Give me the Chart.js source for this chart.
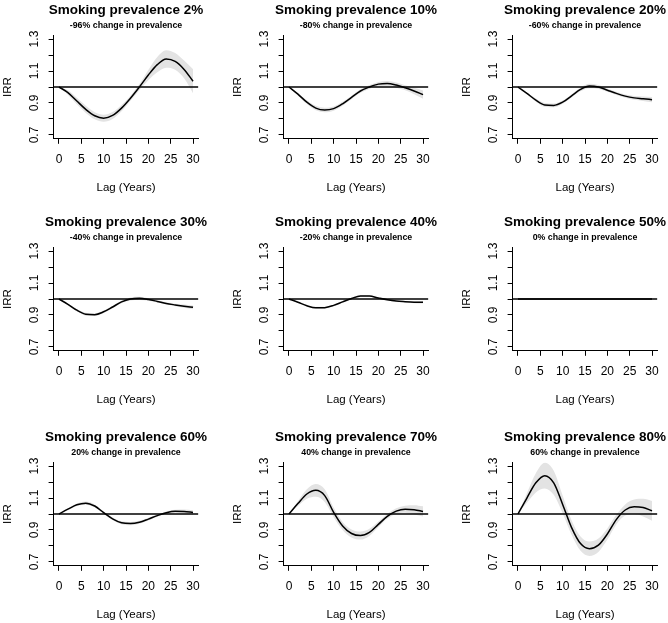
<!DOCTYPE html>
<html>
<head>
<meta charset="utf-8">
<script src="https://cdn.jsdelivr.net/npm/chart.js@4.4.1/dist/chart.umd.min.js"></script>
<style>
    html, body { margin: 0; padding: 0; background: #fff; overflow: hidden; }
    #wrap { position: relative; width: 668px; height: 623px; overflow: hidden; }
    #wrap canvas { position: absolute; }
</style>
</head>
<body>
<div id="wrap"></div>
<script>
// values, lag step 2 years
const lags = [0, 2, 4, 6, 8, 10, 12, 14, 16, 18, 20, 22, 24, 26, 28, 30];
const xTicks = [0, 5, 10, 15, 20, 25, 30];
const yTicks = [0.7, 0.8, 0.9, 1.0, 1.1, 1.2, 1.3];
const yTickLabels = ['0.7', '', '0.9', '', '1.1', '', '1.3'];

const titles = ['Smoking prevalence 2%', 'Smoking prevalence 10%', 'Smoking prevalence 20%',
    'Smoking prevalence 30%', 'Smoking prevalence 40%', 'Smoking prevalence 50%',
    'Smoking prevalence 60%', 'Smoking prevalence 70%', 'Smoking prevalence 80%'];
const subtitles = ['-96% change in prevalence', '-80% change in prevalence', '-60% change in prevalence',
    '-40% change in prevalence', '-20% change in prevalence', '0% change in prevalence',
    '20% change in prevalence', '40% change in prevalence', '60% change in prevalence'];

const est2 = [1.000, 0.965, 0.912, 0.860, 0.820, 0.805, 0.822, 0.868, 0.930, 1.000, 1.075, 1.140, 1.175, 1.160, 1.110, 1.036];
const lo2  = [1.000, 0.951, 0.892, 0.838, 0.798, 0.783, 0.800, 0.848, 0.914, 0.982, 1.043, 1.092, 1.120, 1.108, 1.055, 0.961];
const hi2  = [1.000, 0.979, 0.932, 0.882, 0.842, 0.827, 0.844, 0.888, 0.946, 1.018, 1.107, 1.188, 1.230, 1.212, 1.165, 1.111];

const est10 = [1.000, 0.955, 0.905, 0.868, 0.856, 0.865, 0.895, 0.935, 0.975, 1.000, 1.018, 1.022, 1.012, 0.995, 0.975, 0.952];
const lo10  = [1.000, 0.947, 0.893, 0.854, 0.842, 0.852, 0.883, 0.924, 0.964, 0.988, 1.004, 1.006, 0.996, 0.979, 0.955, 0.926];
const hi10  = [1.000, 0.963, 0.917, 0.882, 0.870, 0.878, 0.907, 0.946, 0.986, 1.012, 1.032, 1.038, 1.028, 1.011, 0.995, 0.978];

const est20 = [1.000, 0.960, 0.918, 0.888, 0.885, 0.905, 0.945, 0.985, 1.006, 1.000, 0.980, 0.960, 0.943, 0.932, 0.927, 0.921];
const lo20  = [1.000, 0.954, 0.908, 0.876, 0.873, 0.895, 0.935, 0.973, 0.992, 0.988, 0.970, 0.950, 0.933, 0.920, 0.913, 0.905];
const hi20  = [1.000, 0.966, 0.928, 0.900, 0.897, 0.915, 0.955, 0.997, 1.020, 1.012, 0.990, 0.970, 0.953, 0.944, 0.941, 0.937];

const est30 = [1.000, 0.967, 0.930, 0.905, 0.902, 0.920, 0.950, 0.982, 1.000, 1.004, 0.997, 0.985, 0.972, 0.963, 0.955, 0.948];
const lo30  = [1.000, 0.962, 0.922, 0.896, 0.893, 0.912, 0.942, 0.973, 0.990, 0.994, 0.989, 0.978, 0.965, 0.955, 0.945, 0.936];
const hi30  = [1.000, 0.972, 0.938, 0.914, 0.911, 0.928, 0.958, 0.991, 1.010, 1.014, 1.005, 0.992, 0.979, 0.971, 0.965, 0.960];

const est40 = [1.000, 0.980, 0.958, 0.945, 0.946, 0.960, 0.982, 1.003, 1.019, 1.018, 1.006, 0.995, 0.987, 0.983, 0.980, 0.979];
const lo40  = [1.000, 0.976, 0.953, 0.939, 0.940, 0.955, 0.977, 0.998, 1.013, 1.012, 1.001, 0.990, 0.982, 0.978, 0.974, 0.972];
const hi40  = [1.000, 0.984, 0.963, 0.951, 0.952, 0.965, 0.987, 1.008, 1.025, 1.024, 1.011, 1.000, 0.992, 0.988, 0.986, 0.986];

const est50 = [1, 1, 1, 1, 1, 1, 1, 1, 1, 1, 1, 1, 1, 1, 1, 1];
const lo50  = [1, 1, 1, 1, 1, 1, 1, 1, 1, 1, 1, 1, 1, 1, 1, 1];
const hi50  = [1, 1, 1, 1, 1, 1, 1, 1, 1, 1, 1, 1, 1, 1, 1, 1];

const est60 = [1.000, 1.030, 1.058, 1.068, 1.050, 1.008, 0.970, 0.945, 0.940, 0.948, 0.968, 0.990, 1.008, 1.017, 1.016, 1.010];
const lo60  = [1.000, 1.025, 1.050, 1.058, 1.040, 1.000, 0.962, 0.936, 0.930, 0.939, 0.960, 0.983, 1.000, 1.007, 1.004, 0.996];
const hi60  = [1.000, 1.035, 1.066, 1.078, 1.060, 1.016, 0.978, 0.954, 0.950, 0.957, 0.976, 0.997, 1.016, 1.027, 1.028, 1.024];

const est70 = [1.000, 1.065, 1.125, 1.148, 1.115, 1.010, 0.925, 0.878, 0.865, 0.885, 0.935, 0.985, 1.018, 1.030, 1.027, 1.016];
const lo70  = [1.000, 1.050, 1.095, 1.108, 1.075, 0.980, 0.900, 0.853, 0.840, 0.863, 0.917, 0.970, 1.000, 1.008, 0.999, 0.984];
const hi70  = [1.000, 1.080, 1.155, 1.188, 1.155, 1.040, 0.950, 0.903, 0.890, 0.907, 0.953, 1.000, 1.036, 1.052, 1.055, 1.048];

const est80 = [1.000, 1.100, 1.195, 1.240, 1.195, 1.060, 0.915, 0.815, 0.783, 0.805, 0.875, 0.965, 1.025, 1.045, 1.040, 1.020];
const lo80  = [1.000, 1.070, 1.135, 1.160, 1.120, 1.005, 0.870, 0.770, 0.738, 0.763, 0.840, 0.935, 0.990, 1.000, 0.985, 0.958];
const hi80  = [1.000, 1.130, 1.255, 1.320, 1.270, 1.115, 0.960, 0.860, 0.828, 0.847, 0.910, 0.995, 1.060, 1.090, 1.095, 1.082];

const panelEst = [est2, est10, est20, est30, est40, est50, est60, est70, est80];
const panelLo = [lo2, lo10, lo20, lo30, lo40, lo50, lo60, lo70, lo80];
const panelHi = [hi2, hi10, hi20, hi30, hi40, hi50, hi60, hi70, hi80];

// layout
const FONT = '"Liberation Sans", Arial, Helvetica, sans-serif';
const colX = [0, 230, 459];
const rowY = [0, 212, 427];
const xMin = -1.2, xMax = 31.2;
const yMin = 0.676, yMax = 1.324;

// R style main title + sub title, centred over the plot region
var panelTitles = {
    id: 'panelTitles',
    afterDraw: function (chart, args, opts) {
        var ctx = chart.ctx;
        var area = chart.chartArea;
        var cx = (area.left + area.right) / 2;
        ctx.save();
        ctx.fillStyle = '#000';
        ctx.textAlign = 'center';
        ctx.textBaseline = 'alphabetic';
        ctx.font = 'bold 13.5px ' + FONT;
        ctx.fillText(opts.title, cx, area.top - 21.2);
        ctx.font = 'bold 8.8px ' + FONT;
        ctx.fillText(opts.sub, cx, area.top - 7.2);
        ctx.restore();
    }
};

function toPoints(values) {
    return lags.map(function (x, i) { return { x: x, y: values[i] }; });
}

function renderPanel(idx) {
    var wrap = document.getElementById('wrap');
    var canvas = document.createElement('canvas');
    canvas.width = 230;
    canvas.height = 205;
    canvas.style.left = colX[idx % 3] + 'px';
    canvas.style.top = rowY[Math.floor(idx / 3)] + 'px';
    wrap.appendChild(canvas);

    new Chart(canvas, {
        type: 'line',
        data: {
            datasets: [{
                data: toPoints(panelLo[idx]),
                borderColor: 'rgba(0,0,0,0)',
                borderWidth: 0,
                pointRadius: 0,
                fill: false,
                cubicInterpolationMode: 'monotone',
                order: 3,
            }, {
                data: toPoints(panelHi[idx]),
                borderColor: 'rgba(0,0,0,0)',
                borderWidth: 0,
                pointRadius: 0,
                fill: '-1',
                backgroundColor: '#e3e3e3',
                cubicInterpolationMode: 'monotone',
                order: 3,
            }, {
                data: toPoints(panelEst[idx]),
                borderColor: '#000',
                borderWidth: 1.5,
                pointRadius: 0,
                fill: false,
                cubicInterpolationMode: 'monotone',
                order: 2,
            }, {
                // abline(h = 1)
                data: [{ x: xMin, y: 1 }, { x: xMax, y: 1 }],
                borderColor: '#000',
                borderWidth: 1.6,
                pointRadius: 0,
                fill: false,
                order: 1,
            }]
        },
        options: {
            responsive: false,
            animation: false,
            layout: { padding: { left: 0, top: 35.2, right: 31.6, bottom: 0 } },
            plugins: {
                legend: { display: false },
                tooltip: { enabled: false },
                panelTitles: { title: titles[idx], sub: subtitles[idx] }
            },
            scales: {
                x: {
                    type: 'linear',
                    min: xMin,
                    max: xMax,
                    afterBuildTicks: function (s) { s.ticks = xTicks.map(function (v) { return { value: v }; }); },
                    afterFit: function (s) { s.height = 66.2; },
                    border: { color: '#000', width: 1 },
                    grid: { drawOnChartArea: false, color: '#000', tickLength: 5 },
                    ticks: { autoSkip: false, maxRotation: 0, padding: 9, color: '#000', font: { family: FONT, size: 12 } },
                    title: {
                        display: true, text: 'Lag (Years)', color: '#000',
                        font: { family: FONT, size: 11.5 }, padding: { top: 0, bottom: 10 }
                    }
                },
                y: {
                    type: 'linear',
                    min: yMin,
                    max: yMax,
                    afterBuildTicks: function (s) { s.ticks = yTicks.map(function (v) { return { value: v }; }); },
                    afterFit: function (s) { s.width = 53.6; },
                    border: { color: '#000', width: 1 },
                    grid: { drawOnChartArea: false, color: '#000', tickLength: 5 },
                    ticks: {
                        autoSkip: false, minRotation: 90, maxRotation: 90, crossAlign: 'center', padding: 5.3,
                        color: '#000', font: { family: FONT, size: 12 },
                        callback: function (v, i) { return yTickLabels[i]; }
                    },
                    title: {
                        display: true, text: 'IRR', color: '#000',
                        font: { family: FONT, size: 11.5 }, padding: { top: 1, bottom: 0 }
                    }
                }
            }
        },
        plugins: [panelTitles]
    });
}

for (var i = 0; i < 9; i++) {
    renderPanel(i);
}
</script>
</body>
</html>
